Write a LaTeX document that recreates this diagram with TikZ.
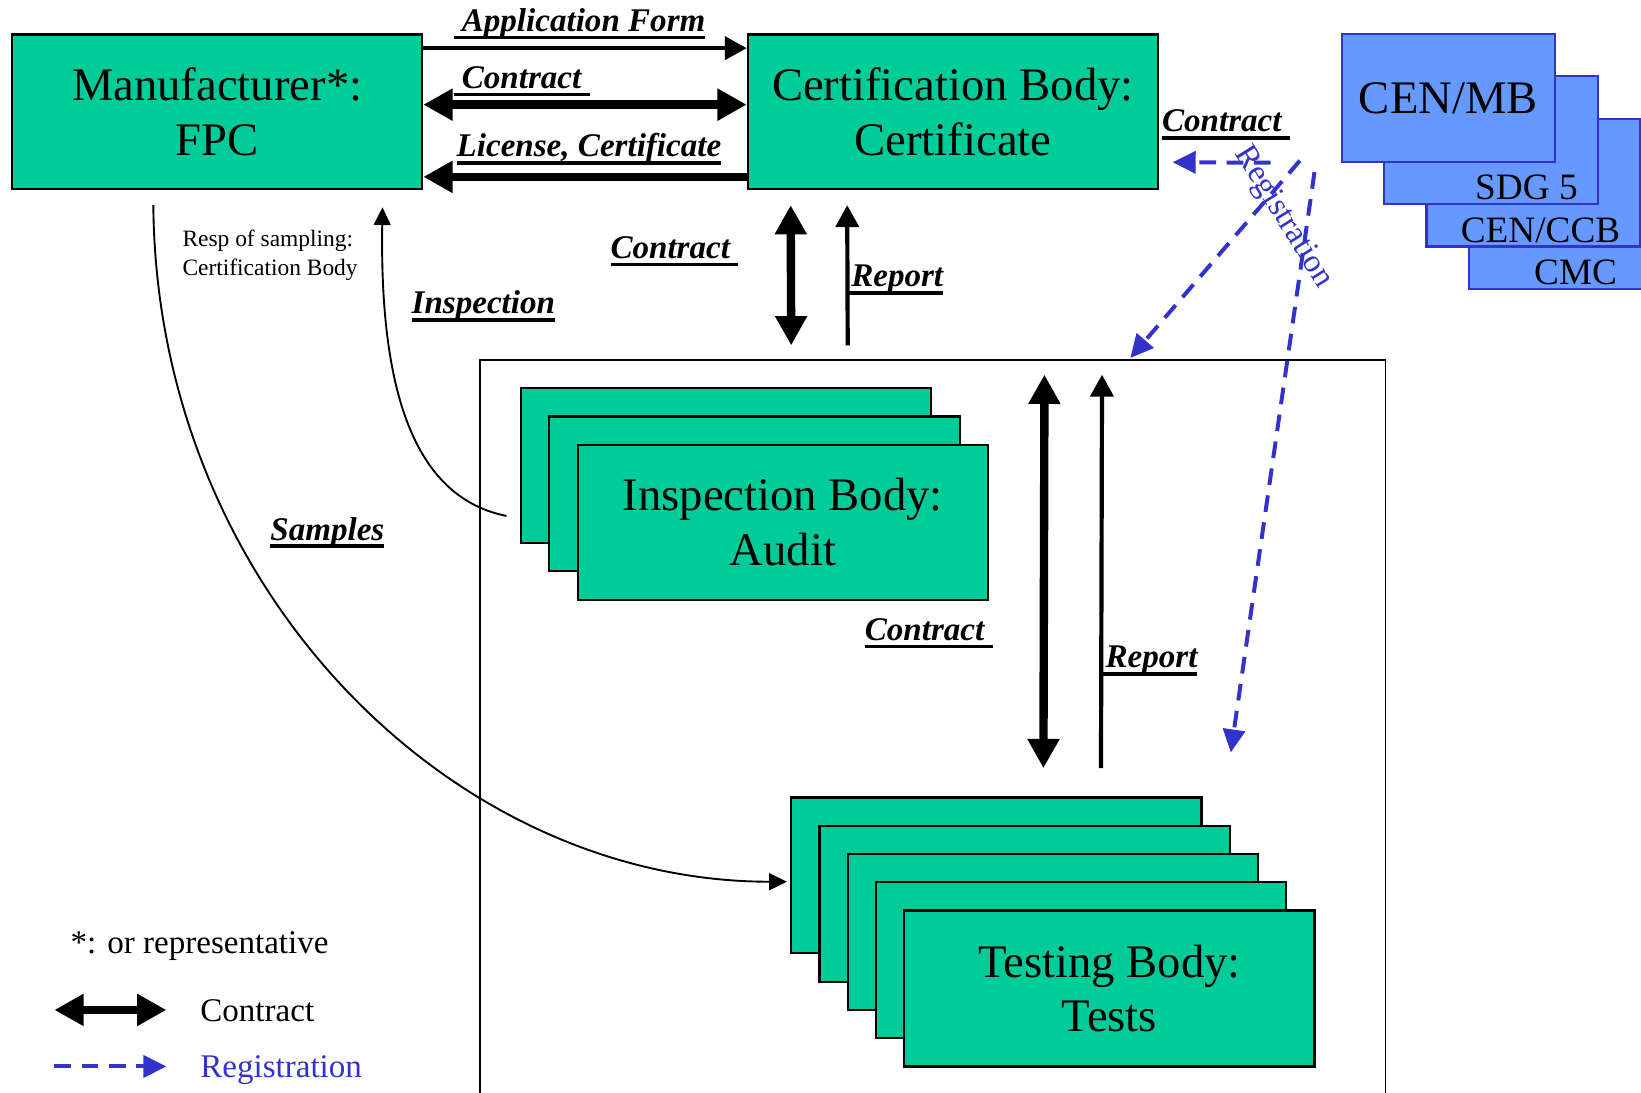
\documentclass[tikz,border=0pt]{standalone}
\usepackage{fontspec}
\setmainfont{Liberation Serif}
\usetikzlibrary{arrows.meta,calc}

\definecolor{boxgreen}{RGB}{0,204,153}
\definecolor{cenfill}{RGB}{102,153,255}
\definecolor{regblue}{RGB}{51,51,204}

\newcommand\ulbl[1]{\setbox0\hbox{#1}\rlap{\rule[-3.8pt]{\wd0}{1.8pt}}\box0}

\begin{document}
\begin{tikzpicture}[x=0.5pt,y=-0.5pt,
  body/.style={draw,line width=1pt,fill=boxgreen,minimum width=196pt,minimum height=74pt,
    align=center,inner sep=0pt,font=\fontsize{22.3}{26}\selectfont},
  cen/.style={draw=regblue,line width=1pt,fill=cenfill,minimum width=102pt,minimum height=61pt,
    inner sep=0pt,font=\fontsize{22.3}{26}\selectfont},
  cenlbl/.style={anchor=base,inner sep=0pt,font=\fontsize{17.8}{20}\selectfont},
  lbl/.style={anchor=base west,inner sep=0pt,font=\fontsize{15.8}{18}\selectfont\bfseries\itshape},
  contract/.style={line width=4pt,{Triangle[length=14pt,width=14.5pt]}-{Triangle[length=14pt,width=14.5pt]}},
  heavy/.style={line width=4pt,-{Triangle[length=14pt,width=14.5pt]}},
  oneway/.style={line width=2pt,-{Triangle[length=10.5pt,width=11pt]}},
  flow/.style={line width=0.9pt,-{Triangle[length=8.5pt,width=8pt]}},
  reg/.style={regblue,line width=1.9pt,dash pattern=on 8pt off 5pt,-{Triangle[length=11pt,width=10.5pt]}},
]
\useasboundingbox (0,0) rectangle (1568,1044);

% bodies
\node[body] (man) at (207.5,107) {Manufacturer*:\\FPC};
\node[body] (cert) at (910.5,107) {Certification Body:\\Certificate};
\node[draw,line width=0.8pt,minimum width=432.5pt,minimum height=360pt,anchor=north west,inner sep=0pt] (lab) at (458,343) {};

\foreach \k in {0,1}
  \node[body] (insp\k) at (694+27*\k,445+27*\k) {};
\node[body] (insp) at (748,499) {Inspection Body:\\Audit};
\foreach \k in {0,...,3}
  \node[body,minimum height=74.5pt] (test\k) at (952+27*\k,836.5+27*\k) {};
\node[body,minimum height=74.5pt] (test) at (1060,944.5) {Testing Body:\\Tests};

% CEN stack, back to front
\node[cen,label={[cenlbl,xshift=0pt,yshift=2.5pt]south:CMC}] (cmc) at (1505.5,215) {};
\node[cen,label={[cenlbl,xshift=3.5pt,yshift=2.4pt]south:CEN/CCB}] (ccb) at (1465,174.5) {};
\node[cen,label={[cenlbl,xshift=17pt,yshift=2.5pt]south:SDG 5}] (sdg) at (1424.5,134) {};
\node[cen] (cenmb) at (1384,93.5) {CEN/MB};

% flows
\draw[oneway] (man.east |- 0,46) -- (cert.west |- 0,46);
\draw[contract] (man.east |- 0,100) -- (cert.west |- 0,100);
\draw[heavy] (cert.west |- 0,169) -- (man.east |- 0,169);
\draw[contract] ($(cert.south west)+(42,14)$) -- ($(lab.north west)+(298,-13)$);
\draw[oneway] ($(lab.north west)+(352,-13)$) -- ($(cert.south west)+(96,14)$);
\draw[contract] ($(lab.north west)+(540,15)$) -- ($(test0.north west)+(242,-27)$);
\draw[oneway] ($(test0.north west)+(297,-27)$) -- ($(lab.north west)+(595,15)$);
\draw[flow] ($(insp0.south west)+(-13,-27)$) .. controls +(-85,-17) and +(-3,183) .. ($(man.south east)+(-39,16)$);
\draw[flow] ($(man.south west)+(136,14)$) .. controls +(3,365) and +(-322,0) .. ($(test0.west)+(-3,6)$);

% registration
\draw[reg] ($(cenmb.south west)+(-67,0)$) -- ($(cert.south east)+(13,-27)$);
\draw[reg] ($(cenmb.south west)+(-39,-2)$) -- ($(lab.north west)+(622,-1)$);
\draw[reg] ($(cenmb.south west)+(-25,9)$) -- ($(test0.north west)+(421,-42)$);
\node[regblue,font=\fontsize{15.6}{18}\selectfont,rotate=-58] (regtxt) at (1226,208) {Registration};

% labels
\node[lbl] (lAppl) at (433,30) {\ulbl{\ Application Form}};
\node[lbl] (lCon1) at (433,84.5) {\ulbl{\ Contract\ }};
\node[lbl] (lLic) at (436,150) {\ulbl{License, Certificate}};
\node[lbl] (lCon2) at (1110,126) {\ulbl{Contract\ }};
\node[lbl] (lCon3) at (583,247) {\ulbl{Contract\ }};
\node[lbl] (lRep1) at (810,274) {\ulbl{\kern1.5pt Report}};
\node[lbl] (lInsp) at (393,300) {\ulbl{Inspection}};
\node[lbl] (lSamp) at (258,516) {\ulbl{Samples}};
\node[lbl] (lCon4) at (826,612) {\ulbl{Contract\ }};
\node[lbl] (lRep2) at (1053,638) {\ulbl{\kern1.5pt Report}};
\node[anchor=base west,inner sep=0pt,align=left,font=\fontsize{11.2}{13.8}\selectfont] (resp) at (174,263) {Resp of sampling:\\Certification Body};

% key
\node[anchor=base west,inner sep=0pt,font=\fontsize{15.8}{18}\selectfont] (note) at (67,911) {*: or representative};
\coordinate (keyc) at (52,965);
\draw[contract] (keyc) -- ++(107,0);
\node[anchor=base west,inner sep=0pt,font=\fontsize{15.8}{18}\selectfont] (keyctxt) at (191,976) {Contract};
\coordinate (keyr) at (52,1019);
\draw[reg] (keyr) -- ++(107,0);
\node[anchor=base west,inner sep=0pt,regblue,font=\fontsize{15.8}{18}\selectfont] (keyrtxt) at (191,1030) {Registration};
\end{tikzpicture}
\end{document}
